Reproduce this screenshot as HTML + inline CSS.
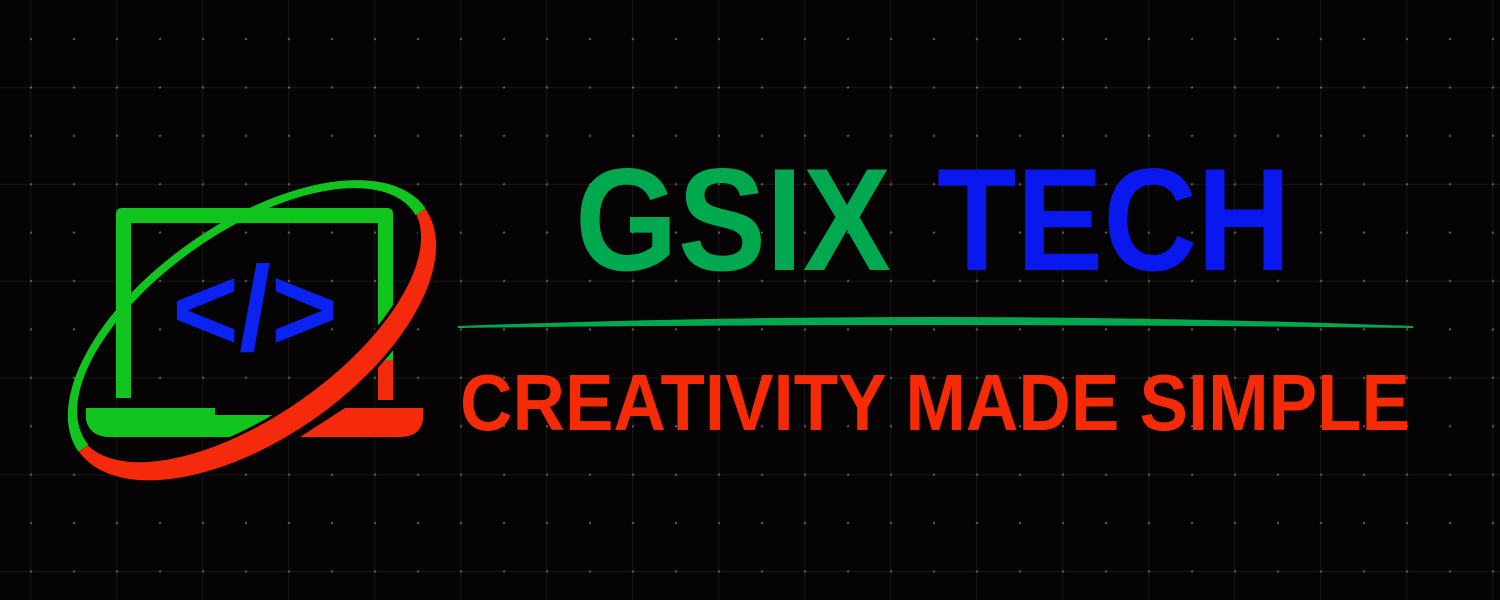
<!DOCTYPE html>
<html><head><meta charset="utf-8"><style>
html,body{margin:0;padding:0;background:#050304;}
svg{display:block}
</style></head><body>
<svg width="1500" height="600" viewBox="0 0 1500 600">
<defs>
<pattern id="dots" x="30.5" y="38.5" width="43" height="48.4" patternUnits="userSpaceOnUse">
<circle cx="0.5" cy="0.5" r="1.2" fill="#5a5a5a"/>
<circle cx="43.5" cy="0.5" r="1.2" fill="#5a5a5a"/>
<circle cx="0.5" cy="48.9" r="1.2" fill="#5a5a5a"/>
</pattern>
<pattern id="lines" x="30" y="87" width="86" height="96.8" patternUnits="userSpaceOnUse">
<rect x="0" y="0" width="1.2" height="96.8" fill="#141414"/>
<rect x="0" y="0" width="86" height="1.2" fill="#141414"/>
</pattern>
<clipPath id="topHalf"><rect x="-300" y="-200" width="600" height="200"/></clipPath>
<clipPath id="botHalf"><rect x="-300" y="0" width="600" height="200"/></clipPath>
</defs>
<rect width="1500" height="600" fill="#050304"/>
<rect width="1500" height="600" fill="url(#lines)"/>
<rect width="1500" height="600" fill="url(#dots)"/>

<g>
  <path d="M122,208 Q116,208 116,214 V398 H131 V223 H378 V398 H393 V214 Q393,208 387,208 Z" fill="#12c51e"/>
  <path d="M86,408 H215 V415 H280 L240,437 H110 Q90,437 86,420 Z" fill="#12c51e"/>
  <rect x="378" y="360" width="15" height="40" fill="#f5290b"/>
  <path d="M345,408 H423 V420 Q420,437 400,437 H300 Z" fill="#f5290b"/>
  <g transform="translate(252,330) rotate(-35)">
    <path d="M-212,0 A212,107 0 1,0 212,0 A212,107 0 1,0 -212,0 Z M-200,-4 A200,95 0 1,1 200,-4 A200,95 0 1,1 -200,-4 Z" fill-rule="evenodd" fill="#12c51e" clip-path="url(#topHalf)"/>
    <path d="M-213,0 A213,110 0 1,0 213,0 A213,110 0 1,0 -213,0 Z M-200,-8 A200,92 0 1,1 200,-8 A200,92 0 1,1 -200,-8 Z" fill-rule="evenodd" fill="#f5290b" stroke="#050304" stroke-width="3" clip-path="url(#botHalf)"/>
  </g>
  <text x="172" y="350" textLength="166" lengthAdjust="spacingAndGlyphs" font-family="Liberation Sans, sans-serif" font-weight="bold" font-size="120" fill="#0a22f2">&lt;/&gt;</text>
</g>

<text x="575" y="270" textLength="316" lengthAdjust="spacingAndGlyphs" font-family="Liberation Sans, sans-serif" font-weight="bold" font-size="146" fill="#00a94f">GSIX</text>
<text x="937" y="270" textLength="354" lengthAdjust="spacingAndGlyphs" font-family="Liberation Sans, sans-serif" font-weight="bold" font-size="146" fill="#0a18f0">TECH</text>

<path d="M458,327 Q935,309 1413,327 Q935,321 458,327 Z" fill="#00a94f" stroke="#00a94f" stroke-width="2"/>

<text x="460" y="430" textLength="950" lengthAdjust="spacingAndGlyphs" font-family="Liberation Sans, sans-serif" font-weight="bold" font-size="80" fill="#f52b08">CREATIVITY MADE SIMPLE</text>
</svg>
</body></html>
